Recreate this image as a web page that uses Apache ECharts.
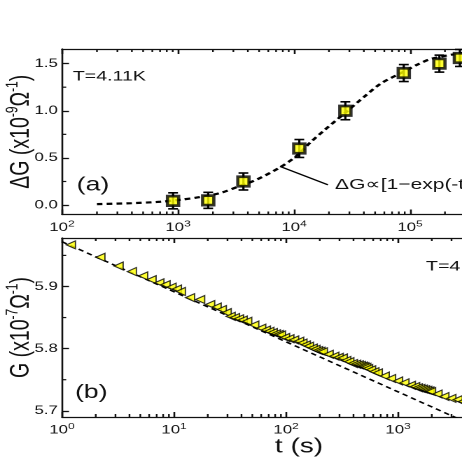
<!DOCTYPE html>
<html>
<head>
<meta charset="utf-8">
<script src="https://cdn.jsdelivr.net/npm/echarts@6/dist/echarts.min.js"></script>
<style>
  html, body { margin: 0; padding: 0; background: #fff; overflow: hidden; }
  /* the source figure is stretched sideways, so draw narrow and stretch x */
  #chart { width: 330px; height: 458px; transform: scaleX(1.4); transform-origin: 0 0; }
</style>
</head>
<body>
<div id="chart"></div>
<script>
// ---- panel (a): dG vs t, squares with error bars + fit ----
const aTime = [906, 1820, 3660, 11100, 27700, 88300, 179000, 269000];
const aDG   = [0.045, 0.05, 0.25, 0.60, 1.00, 1.40, 1.50, 1.56];
const aErr  = [0.085, 0.085, 0.09, 0.095, 0.095, 0.09, 0.09, 0.09];
const aFitTime = [200, 400, 700, 1040, 1550, 2300, 3210, 4760, 7570, 10500, 13700, 18500,
                  27700, 40400, 56200, 88300, 116000, 152000, 275000, 500000];
const aFitDG   = [0.01, 0.02, 0.035, 0.056, 0.085, 0.127, 0.19, 0.27, 0.40, 0.52, 0.66, 0.80,
                  0.98, 1.15, 1.29, 1.415, 1.49, 1.55, 1.61, 1.64];
const aXTicks = [1e2, 1e3, 1e4, 1e5, 1e6];
const aYTicks = [0, 0.5, 1.0, 1.5];
const aYMinor = [0.25, 0.75, 1.25];
const arrowFrom = [19600, 0.215];
const arrowTo = [7570, 0.41];

// ---- panel (b): G vs t, triangles + straight log fit ----
const bTime = [1.2, 2.2, 3.2, 4.2, 5.3, 6.3, 7.4, 8.4, 9.5, 10.6, 11.5, 13.9, 17.1, 21, 24, 26.7, 29.5,
               32, 35, 38, 41, 45, 52, 60, 66, 71, 76, 81, 86, 90, 98, 107, 118, 131, 140, 150, 160,
               173, 183, 193, 203, 213, 240, 270, 295, 321, 345, 367, 395, 422, 445, 465, 485, 500,
               520, 540, 574, 615, 659, 760, 866, 1000, 1140, 1300, 1420, 1500, 1580, 1660, 1740,
               1820, 1900, 1970, 2250, 2590, 2990, 3410, 3800, 4200];
const bG = [5.967, 5.947, 5.933, 5.924, 5.917, 5.911, 5.906, 5.903, 5.899, 5.896, 5.892, 5.882, 5.879,
            5.871, 5.867, 5.863, 5.858, 5.852, 5.850, 5.848, 5.846, 5.844, 5.838, 5.833, 5.830, 5.828,
            5.826, 5.824, 5.823, 5.822, 5.818, 5.816, 5.814, 5.812, 5.809, 5.806, 5.804, 5.801, 5.799,
            5.797, 5.796, 5.795, 5.791, 5.788, 5.786, 5.785, 5.781, 5.779, 5.776, 5.775, 5.774, 5.773,
            5.772, 5.771, 5.770, 5.768, 5.766, 5.763, 5.761, 5.756, 5.752, 5.748, 5.745, 5.741, 5.739,
            5.737, 5.736, 5.735, 5.734, 5.733, 5.732, 5.731, 5.727, 5.723, 5.720, 5.718, 5.715, 5.713];
const bFitTime = [1, 4000];
const bFitG = [5.972, 5.682];
const bXTicks = [1, 10, 100, 1000, 10000];
const bYTicks = [5.7, 5.8, 5.9];
const bYMinor = [5.75, 5.85, 5.95];

const font = 'Liberation Sans, Arial, sans-serif';
const ink = '#111';
const lineSt = { color: ink, width: 1.3 };

function minorLog(lo, hi) {
    const out = [];
    for (let e = lo; e < hi; e++) {
        for (let k = 2; k <= 9; k++) out.push(k * Math.pow(10, e));
    }
    return out;
}

function xAxes(grid, min, max, majors, extra) {
    const base = {
        type: 'log', logBase: 10, gridIndex: grid, min: min, max: max,
        splitLine: { show: false },
        axisLine: { show: true, onZero: false, lineStyle: lineSt },
        axisTick: { inside: true, length: 5, customValues: majors, lineStyle: lineSt }
    };
    return [
        Object.assign({}, base, {
            position: 'bottom',
            axisLabel: {
                customValues: majors, margin: 5,
                formatter: v => '{b|10}{s|' + Math.round(Math.log10(v)) + '}',
                rich: {
                    b: { fontSize: 12, fontFamily: font, color: ink, lineHeight: 16 },
                    s: { fontSize: 8.5, fontFamily: font, color: ink, lineHeight: 10, verticalAlign: 'top' }
                }
            }
        }, extra || {}),
        Object.assign({}, base, { position: 'top', axisLabel: { show: false } })
    ];
}

function yAxes(grid, min, max, majors, name) {
    const base = {
        type: 'value', gridIndex: grid, min: min, max: max,
        splitLine: { show: false },
        axisLine: { show: true, onZero: false, lineStyle: lineSt },
        axisTick: { inside: true, length: 5, customValues: majors, lineStyle: lineSt }
    };
    return [
        Object.assign({}, base, {
            position: 'left',
            axisLabel: {
                customValues: majors, margin: 3, fontSize: 12, fontFamily: font, color: ink,
                formatter: v => v.toFixed(1)
            },
            name: name, nameLocation: 'middle', nameRotate: 90, nameGap: 17, nameMoveOverlap: false,
            nameTextStyle: {
                rich: {
                    n: { fontSize: 19.5, fontFamily: font, color: ink, lineHeight: 24 },
                    s: { fontSize: 12, fontFamily: font, color: ink, lineHeight: 13, verticalAlign: 'top' }
                }
            }
        }),
        Object.assign({}, base, { position: 'right', axisLabel: { show: false } })
    ];
}

// short minor ticks on all four sides, placed through the axes' own scales
function minorTicks(xi, yi, xMinors, yMinors, xAny, yAny) {
    const data = xMinors.map(v => [v, yAny, 0]).concat(yMinors.map(v => [xAny, v, 1]));
    return {
        type: 'custom', xAxisIndex: xi, yAxisIndex: yi, z: 5, silent: true,
        encode: { x: 0, y: 1 },
        data: data,
        renderItem: (params, api) => {
            const cs = params.coordSys;
            const p = api.coord([api.value(0), api.value(1)]);
            const L = 3;
            const st = { stroke: ink, lineWidth: 1.2 };
            if (api.value(2) === 0) {
                const yb = cs.y + cs.height, yt = cs.y;
                return { type: 'group', children: [
                    { type: 'line', shape: { x1: p[0], y1: yb, x2: p[0], y2: yb - L }, style: st },
                    { type: 'line', shape: { x1: p[0], y1: yt, x2: p[0], y2: yt + L }, style: st }
                ] };
            }
            const xl = cs.x, xr = cs.x + cs.width;
            return { type: 'group', children: [
                { type: 'line', shape: { x1: xl, y1: p[1], x2: xl + L, y2: p[1] }, style: st },
                { type: 'line', shape: { x1: xr, y1: p[1], x2: xr - L, y2: p[1] }, style: st }
            ] };
        }
    };
}

function errorBars(xi, yi, xs, ys, errs) {
    return {
        type: 'custom', xAxisIndex: xi, yAxisIndex: yi, z: 2,
        encode: { x: 0, y: [1, 2] },
        data: xs.map((t, i) => [t, ys[i] - errs[i], ys[i] + errs[i]]),
        renderItem: (params, api) => {
            const lo = api.coord([api.value(0), api.value(1)]);
            const hi = api.coord([api.value(0), api.value(2)]);
            const w = 3.5;
            const st = { stroke: '#000', lineWidth: 1.6 };
            return {
                type: 'group',
                children: [
                    { type: 'line', shape: { x1: lo[0], y1: lo[1], x2: hi[0], y2: hi[1] }, style: st },
                    { type: 'line', shape: { x1: lo[0] - w, y1: lo[1], x2: lo[0] + w, y2: lo[1] }, style: st },
                    { type: 'line', shape: { x1: hi[0] - w, y1: hi[1], x2: hi[0] + w, y2: hi[1] }, style: st }
                ]
            };
        }
    };
}

const chart = echarts.init(document.getElementById('chart'), null, { devicePixelRatio: 2 });

const option = {
    backgroundColor: '#fff',
    animation: false,
    grid: [
        { left: 44.3, right: -52.9, top: 49, height: 165.5, outerBoundsMode: 'none', containLabel: false },
        { left: 44.3, right: -52.9, top: 238, height: 179, outerBoundsMode: 'none', containLabel: false }
    ],
    xAxis: [].concat(
        xAxes(0, 100, 1.22e6, aXTicks),
        xAxes(1, 1, 17060, bXTicks, {
            name: 't (s)', nameLocation: 'middle', nameGap: 20,
            nameTextStyle: { fontSize: 20, fontFamily: font, color: ink }
        })
    ),
    yAxis: [].concat(
        yAxes(0, -0.1, 1.655, aYTicks, '{n|ΔG (x10}{s|-9}{n|Ω}{s|-1}{n|)}'),
        yAxes(1, 5.69, 5.978, bYTicks, '{n|G (x10}{s|-7}{n|Ω}{s|-1}{n|)}')
    ),
    series: [
        minorTicks(0, 0, minorLog(2, 6), aYMinor, 1000, 0.5),
        minorTicks(2, 2, minorLog(0, 4), bYMinor, 10, 5.8),
        {
            type: 'line', xAxisIndex: 0, yAxisIndex: 0, z: 1,
            data: aFitTime.map((t, i) => [t, aFitDG[i]]),
            smooth: 0.3, showSymbol: false, symbol: 'none',
            lineStyle: { color: '#000', width: 2.2, type: [4, 3] },
            markLine: {
                silent: true, symbol: ['none', 'arrow'], symbolSize: [0, 9],
                label: { show: false },
                lineStyle: { color: '#000', width: 1.3, type: 'solid' },
                data: [[{ coord: arrowFrom }, { coord: arrowTo }]]
            }
        },
        errorBars(0, 0, aTime, aDG, aErr),
        {
            type: 'scatter', xAxisIndex: 0, yAxisIndex: 0, z: 3,
            data: aTime.map((t, i) => [t, aDG[i]]),
            symbol: 'rect', symbolSize: [8, 9.5],
            itemStyle: { color: '#ffff00', borderColor: '#000', borderWidth: 2.5 }
        },
        {
            type: 'line', xAxisIndex: 2, yAxisIndex: 2, z: 1,
            data: bFitTime.map((t, i) => [t, bFitG[i]]),
            showSymbol: false, symbol: 'none', clip: true,
            lineStyle: { color: '#000', width: 1.5, type: [4, 3] }
        },
        {
            type: 'scatter', xAxisIndex: 2, yAxisIndex: 2, z: 3,
            data: bTime.map((t, i) => [t, bG[i]]),
            symbol: 'triangle', symbolRotate: 90, symbolSize: [8, 6.5],
            itemStyle: { color: '#ffff00', borderColor: '#000', borderWidth: 1 }
        }
    ],
    graphic: [
        { type: 'text', x: 52, y: 76.7, style: { text: 'T=4.11K', fontSize: 14, fontFamily: font, fill: ink, verticalAlign: 'middle' } },
        { type: 'text', x: 54.8, y: 185.3, style: { text: '(a)', fontSize: 19, fontFamily: font, fill: ink, verticalAlign: 'middle' } },
        { type: 'text', x: 239.3, y: 185, style: { text: 'ΔG∝[1−exp(-t/τ)]', fontSize: 15, fontFamily: font, fill: ink, verticalAlign: 'middle' } },
        { type: 'text', x: 53.6, y: 393, style: { text: '(b)', fontSize: 19, fontFamily: font, fill: ink, verticalAlign: 'middle' } },
        { type: 'text', x: 304.3, y: 266.7, style: { text: 'T=4.11K', fontSize: 14, fontFamily: font, fill: ink, verticalAlign: 'middle' } }
    ]
};

chart.setOption(option);
</script>
</body>
</html>
